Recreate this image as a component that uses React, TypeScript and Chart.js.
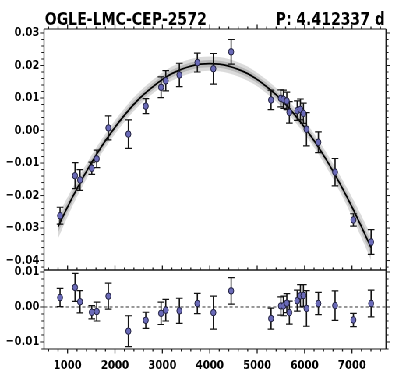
import React, { useEffect, useRef } from 'react';
import { Chart, registerables } from 'chart.js';

Chart.register(...registerables);

// ---------------- data ----------------
const TITLE_LEFT = 'OGLE-LMC-CEP-2572';
const TITLE_RIGHT = 'P: 4.412337 d';

const T = [842, 1158, 1264, 1511, 1616, 1861, 2283, 2650, 2973, 3072, 3359, 3738, 4076, 4451, 5293, 5500, 5553, 5625, 5679, 5845, 5912, 5975, 6040, 6291, 6643, 7030, 7403];
const MAG = [-0.0262, -0.0139, -0.0152, -0.0116, -0.0087, 0.0008, -0.0011, 0.0075, 0.0133, 0.0153, 0.0171, 0.0209, 0.019, 0.0242, 0.0094, 0.0099, 0.0096, 0.0091, 0.0056, 0.0061, 0.0065, 0.0053, 0.0004, -0.0036, -0.0128, -0.0275, -0.0343];
const ERR = [0.0026, 0.004, 0.0032, 0.0019, 0.0027, 0.0037, 0.0044, 0.0023, 0.0032, 0.0031, 0.0036, 0.0029, 0.0047, 0.0038, 0.003, 0.0026, 0.0028, 0.0027, 0.0033, 0.003, 0.0032, 0.0031, 0.0051, 0.0032, 0.0042, 0.0019, 0.0038];
const RESID = [0.0027, 0.0056, 0.0015, -0.0015, -0.0013, 0.0031, -0.0069, -0.0038, -0.0018, -0.0009, -0.0011, 0.001, -0.0016, 0.0046, -0.0033, 0.0003, 0.0003, 0.0011, -0.0016, 0.0018, 0.0032, 0.0033, -0.0004, 0.001, 0.0004, -0.0037, 0.001];

const CURVE_T = [800, 1000, 1200, 1400, 1600, 1800, 2000, 2200, 2400, 2600, 2800, 3000, 3200, 3400, 3600, 3800, 4000, 4200, 4400, 4600, 4800, 5000, 5200, 5400, 5600, 5800, 6000, 6200, 6400, 6600, 6800, 7000, 7200, 7400];
const CURVE_Y = [-0.0296, -0.0235, -0.0178, -0.0125, -0.0076, -0.0031, 0.001, 0.0047, 0.0081, 0.011, 0.0135, 0.0157, 0.0175, 0.0188, 0.0198, 0.0204, 0.0206, 0.0204, 0.0198, 0.0188, 0.0175, 0.0157, 0.0135, 0.011, 0.0081, 0.0047, 0.001, -0.0031, -0.0076, -0.0125, -0.0178, -0.0235, -0.0296, -0.036];
const BAND_OUTER = [0.0036, 0.003, 0.0026, 0.0023, 0.0022, 0.0021, 0.0021, 0.0021, 0.0021, 0.0021, 0.0021, 0.0021, 0.0022, 0.0022, 0.0022, 0.0022, 0.0022, 0.0022, 0.0022, 0.0022, 0.0022, 0.0021, 0.0021, 0.0021, 0.0021, 0.0021, 0.0021, 0.0021, 0.0022, 0.0023, 0.0026, 0.003, 0.0034, 0.0038];
const BAND_INNER = [0.0018, 0.0015, 0.0013, 0.0012, 0.0011, 0.0011, 0.0011, 0.0011, 0.0011, 0.0011, 0.0011, 0.0011, 0.0011, 0.0011, 0.0011, 0.0011, 0.0011, 0.0011, 0.0011, 0.0011, 0.0011, 0.0011, 0.0011, 0.0011, 0.0011, 0.0011, 0.0011, 0.0011, 0.0011, 0.0012, 0.0013, 0.0015, 0.0017, 0.0019];

const X_TICKS = [1000, 2000, 3000, 4000, 5000, 6000, 7000];
const Y_TICKS_TOP = [-0.04, -0.03, -0.02, -0.01, 0, 0.01, 0.02, 0.03];
const Y_TICKS_BOT = [-0.01, 0, 0.01];

// ---------------- layout ----------------
const W = 512;
const S = 399 / W;
const X_MIN = 504;
const X_MAX = 7717;
const TOP_MIN = -0.0429;
const TOP_MAX = 0.03123;
const BOT_MIN = -0.012;
const BOT_MAX = 0.01057;
const PLOT_LEFT = 56.5;
const PLOT_RIGHT = 495.3;

const MARK_FILL = '#6a6ab8';
const MARK_EDGE = '#1e1e3a';
const INK = '#1a1a1a';
const tickFont = { family: 'DejaVu Sans', size: 13, weight: 'bold' as const };

const fmt = (v: number) => (v < 0 ? '\u2212' : '') + Math.abs(v).toFixed(2);

const X_MINOR = Array.from({ length: 36 }, (_, i) => 600 + i * 200);

function yScale(min: number, max: number, ticks: number[]) {
  return {
    type: 'linear' as const,
    min,
    max,
    grid: { display: false, drawTicks: false, tickLength: 0 },
    border: { display: false },
    afterBuildTicks: (s: any) => {
      s.ticks = ticks.map((v) => ({ value: v }));
    },
    afterFit: (s: any) => {
      s.width = PLOT_LEFT;
      s.paddingTop = 0;
      s.paddingBottom = 0;
    },
    ticks: { color: '#000', font: tickFont, padding: 6, callback: (v: any) => fmt(Number(v)) },
  };
}

function framePlugin(kMin: number, kMax: number, bottomDir: number, topDir: number) {
  return {
    id: 'frameTicks',
    afterDraw(chart: any) {
      const { ctx, chartArea: a, scales } = chart;
      const xs = scales.x;
      const ys = scales.y;
      ctx.save();
      ctx.strokeStyle = INK;
      // x ticks (vertical marks)
      ctx.lineWidth = 1.3;
      ctx.beginPath();
      X_MINOR.forEach((v) => {
        const px = xs.getPixelForValue(v);
        if (px < a.left || px > a.right) return;
        const len = v % 1000 === 0 ? 4.5 : 2.6;
        if (topDir !== 0) {
          ctx.moveTo(px, a.top);
          ctx.lineTo(px, a.top - topDir * len);
        }
        if (bottomDir !== 0) {
          ctx.moveTo(px, a.bottom);
          ctx.lineTo(px, a.bottom + bottomDir * len);
        }
      });
      ctx.stroke();
      // y ticks (horizontal marks), outward on both sides
      ctx.lineWidth = 1;
      ctx.beginPath();
      for (let k = kMin; k <= kMax; k++) {
        const py = ys.getPixelForValue(k * 0.002);
        const len = k % 5 === 0 ? 5.2 : 3.3;
        ctx.moveTo(a.left, py);
        ctx.lineTo(a.left - len, py);
        ctx.moveTo(a.right, py);
        ctx.lineTo(a.right + len, py);
      }
      ctx.stroke();
      // frame
      ctx.lineWidth = 1.2;
      ctx.beginPath();
      ctx.moveTo(a.left, a.top);
      ctx.lineTo(a.right, a.top);
      ctx.moveTo(a.left, a.bottom);
      ctx.lineTo(a.right, a.bottom);
      ctx.stroke();
      ctx.lineWidth = 1.4;
      ctx.beginPath();
      ctx.moveTo(a.left, a.top);
      ctx.lineTo(a.left, a.bottom);
      ctx.moveTo(a.right, a.top);
      ctx.lineTo(a.right, a.bottom);
      ctx.stroke();
      ctx.restore();
    },
  };
}

function errorBarPlugin(vals: number[], errs: number[]) {
  return {
    id: 'errBars',
    beforeDatasetDraw(chart: any, args: any) {
      const ds = chart.data.datasets[args.index];
      if (ds.label !== 'obs') return;
      const { ctx } = chart;
      const xs = chart.scales.x;
      const ys = chart.scales.y;
      ctx.save();
      ctx.strokeStyle = '#111';
      T.forEach((t, i) => {
        const px = xs.getPixelForValue(t);
        const y1 = ys.getPixelForValue(vals[i] - errs[i]);
        const y2 = ys.getPixelForValue(vals[i] + errs[i]);
        ctx.lineWidth = 1.6;
        ctx.beginPath();
        ctx.moveTo(px, y1);
        ctx.lineTo(px, y2);
        ctx.stroke();
        ctx.lineWidth = 1.2;
        ctx.beginPath();
        ctx.moveTo(px - 4.3, y1);
        ctx.lineTo(px + 4.3, y1);
        ctx.moveTo(px - 4.3, y2);
        ctx.lineTo(px + 4.3, y2);
        ctx.stroke();
      });
      ctx.restore();
    },
  };
}

const titlePlugin = {
  id: 'dualTitle',
  afterDraw(chart: any) {
    const { ctx, chartArea: a } = chart;
    ctx.save();
    ctx.fillStyle = '#000';
    ctx.font = 'bold 18px "DejaVu Sans"';
    ctx.textBaseline = 'alphabetic';
    ctx.textAlign = 'left';
    ctx.fillText(TITLE_LEFT, a.left + 1, 24.5);
    ctx.textAlign = 'right';
    ctx.fillText(TITLE_RIGHT, a.right - 1.3, 24.5);
    ctx.restore();
  },
};

const obsStyle = {
  label: 'obs',
  showLine: false,
  pointRadius: 3.3,
  pointBackgroundColor: MARK_FILL,
  pointBorderColor: MARK_EDGE,
  pointBorderWidth: 1,
  order: 0,
};

const bandStyle = {
  borderWidth: 0,
  borderColor: 'rgba(0,0,0,0)',
  pointRadius: 0,
  cubicInterpolationMode: 'monotone' as const,
};

export default function App() {
  const topRef = useRef<HTMLCanvasElement>(null);
  const botRef = useRef<HTMLCanvasElement>(null);

  useEffect(() => {
    const curve = CURVE_T.map((t, i) => ({ x: t, y: CURVE_Y[i] }));
    const oHi = CURVE_T.map((t, i) => ({ x: t, y: CURVE_Y[i] + BAND_OUTER[i] }));
    const oLo = CURVE_T.map((t, i) => ({ x: t, y: CURVE_Y[i] - BAND_OUTER[i] }));
    const iHi = CURVE_T.map((t, i) => ({ x: t, y: CURVE_Y[i] + BAND_INNER[i] }));
    const iLo = CURVE_T.map((t, i) => ({ x: t, y: CURVE_Y[i] - BAND_INNER[i] }));
    const obs = T.map((t, i) => ({ x: t, y: MAG[i] }));
    const res = T.map((t, i) => ({ x: t, y: RESID[i] }));

    const common = {
      animation: false as const,
      responsive: false,
      maintainAspectRatio: false,
      devicePixelRatio: 1,
      events: [] as any[],
      plugins: { legend: { display: false }, tooltip: { enabled: false }, title: { display: false } },
    };

    const top = new Chart(topRef.current!, {
      type: 'line',
      data: {
        datasets: [
          { ...obsStyle, data: obs } as any,
          { label: 'fit', data: curve, borderColor: '#000', borderWidth: 1.8, pointRadius: 0, fill: false, cubicInterpolationMode: 'monotone', order: 1 },
          { label: 'innerHi', data: iHi, ...bandStyle, fill: '+1', backgroundColor: 'rgba(110,110,110,0.3)', order: 2 },
          { label: 'innerLo', data: iLo, ...bandStyle, fill: false, order: 2 },
          { label: 'outerHi', data: oHi, ...bandStyle, fill: '+1', backgroundColor: 'rgba(150,150,150,0.34)', order: 3 },
          { label: 'outerLo', data: oLo, ...bandStyle, fill: false, order: 3 },
        ],
      },
      options: {
        ...common,
        layout: { padding: { left: 0, right: W - PLOT_RIGHT, top: 29, bottom: 6 } },
        scales: {
          x: { type: 'linear', min: X_MIN, max: X_MAX, display: false },
          y: yScale(TOP_MIN, TOP_MAX, Y_TICKS_TOP) as any,
        },
      },
      plugins: [errorBarPlugin(MAG, ERR), framePlugin(-21, 15, -1, 1), titlePlugin],
    } as any);

    const bot = new Chart(botRef.current!, {
      type: 'line',
      data: {
        datasets: [
          { ...obsStyle, data: res } as any,
          { label: 'zero', data: [{ x: X_MIN, y: 0 }, { x: X_MAX, y: 0 }], borderColor: '#333', borderWidth: 1, borderDash: [4, 3], pointRadius: 0, fill: false, order: 1 },
        ],
      },
      options: {
        ...common,
        layout: { padding: { left: 0, right: W - PLOT_RIGHT, top: 8, bottom: 0 } },
        scales: {
          x: {
            type: 'linear',
            min: X_MIN,
            max: X_MAX,
            grid: { display: false, drawTicks: false, tickLength: 0 },
            border: { display: false },
            afterBuildTicks: (s: any) => {
              s.ticks = X_TICKS.map((v) => ({ value: v }));
            },
            afterFit: (s: any) => {
              s.height = 33;
              s.paddingLeft = 0;
              s.paddingRight = 0;
            },
            ticks: { color: '#000', font: tickFont, padding: 9, maxRotation: 0, autoSkip: false, callback: (v: any) => String(v) },
          },
          y: yScale(BOT_MIN, BOT_MAX, Y_TICKS_BOT) as any,
        },
      },
      plugins: [errorBarPlugin(RESID, ERR), framePlugin(-6, 5, 1, 0)],
    } as any);

    return () => {
      top.destroy();
      bot.destroy();
    };
  }, []);

  return (
    <div style={{ position: 'fixed', left: 0, top: 0, width: 399, height: 382, overflow: 'hidden', background: '#fff' }}>
      <div style={{ position: 'absolute', left: 0, top: 0, width: W, height: 382, transform: `scaleX(${S})`, transformOrigin: '0 0' }}>
        <canvas ref={topRef} width={W} height={276} style={{ position: 'absolute', left: 0, top: 0, width: W, height: 276 }} />
        <canvas ref={botRef} width={W} height={120} style={{ position: 'absolute', left: 0, top: 262, width: W, height: 120 }} />
      </div>
    </div>
  );
}
